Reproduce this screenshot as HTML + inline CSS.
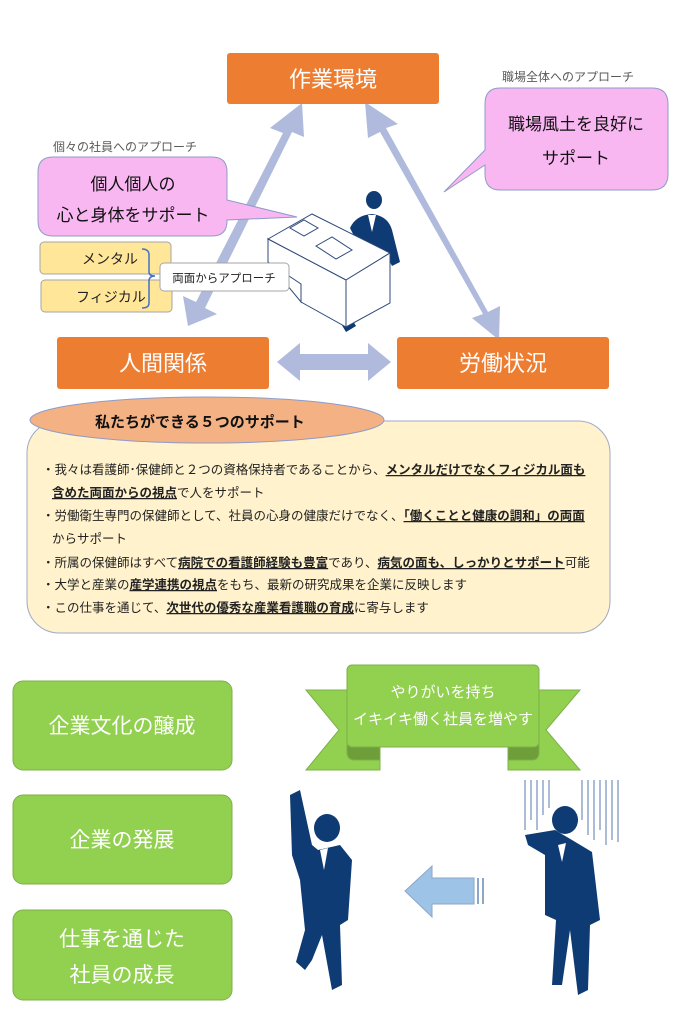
<!DOCTYPE html>
<html><head><meta charset="utf-8"><style>
body{margin:0;background:#fff;}
svg{display:block;font-family:"Liberation Sans","Noto Sans CJK JP",sans-serif;}
</style></head><body>
<svg width="694" height="1024" viewBox="0 0 694 1024" xmlns="http://www.w3.org/2000/svg">
<!-- arrows -->
<g fill="#AFBADC">
<polygon points="188,326 183,296 196,302 283,133 270,128 302,103 304,137 292,132 205,308 217,314"/>
<polygon points="365,102 398,124 386,128 488,312 500,306 499,340 472,318 483,314 380,132 368,138"/>
<polygon points="277,362 300,343 300,354 368,354 368,343 391,362 368,381 368,370 300,370 300,381"/>
</g>
<!-- orange boxes -->
<g fill="#ED7D31">
<rect x="227" y="53" width="212" height="51" rx="3"/>
<rect x="57" y="337" width="212" height="52" rx="3"/>
<rect x="397" y="337" width="212" height="52" rx="3"/>
</g>
<g fill="#fff" font-size="22" text-anchor="middle">
<text x="333" y="87">作業環境</text>
<text x="163" y="371">人間関係</text>
<text x="503" y="371">労働状況</text>
</g>
<!-- captions -->
<g fill="#595959" font-size="12">
<text x="502" y="81">職場全体へのアプローチ</text>
<text x="53" y="151">個々の社員へのアプローチ</text>
</g>
<!-- pink bubbles -->
<path d="M500,88 H652 Q668,88 668,104 V174 Q668,190 652,190 H500 Q485,190 485,174 V165 L444,192 L485,150 V104 Q485,88 500,88Z" fill="#F9B7F2" stroke="#8E9BC9"/>
<g font-size="17" text-anchor="middle" fill="#111"><text x="576" y="130">職場風土を良好に</text><text x="576" y="164">サポート</text></g>
<!-- man behind desk -->
<g fill="#0E3B73">
<ellipse cx="374" cy="200" rx="8" ry="9"/>
<path d="M350,228 Q356,215 372,214 Q388,216 392,230 L400,262 L392,266 L384,250 L370,246 L356,240Z"/>
<path d="M340,322 L350,316 L356,326 L346,332Z"/>
</g>
<g fill="#fff"><path d="M368,215 L376,215 L372,232Z"/></g>
<!-- desk -->
<g stroke="#2F4A7A" fill="#fff" stroke-width="1">
<polygon points="268,239 268,262 301,302 301,282"/>
<polygon points="301,282 346,280 346,327 301,302" fill="none" stroke="none"/>
<polygon points="268,239 312,214 390,253 346,280"/>
<polygon points="268,239 346,280 346,327 301,302 301,284 268,262"/>
<polygon points="346,280 390,253 390,303 346,327"/>
<polygon points="290,228 304,220 318,228 304,236"/>
<polygon points="316,246 332,237 352,250 336,259"/>
</g>
<path d="M53,157 H212 Q227,157 227,172 V200 L297,217 L227,220 V221 Q227,236 212,236 H53 Q38,236 38,221 V172 Q38,157 53,157Z" fill="#F9B7F2" stroke="#8E9BC9"/>
<g font-size="17" text-anchor="middle" fill="#111"><text x="133" y="190">個人個人の</text><text x="133" y="221">心と身体をサポート</text></g>
<!-- yellow -->
<rect x="40" y="242" width="131" height="32" rx="4" fill="#FFE699" stroke="#A5A5A5"/>
<rect x="41" y="280" width="131" height="32" rx="4" fill="#FFE699" stroke="#A5A5A5"/>
<g font-size="14" fill="#222"><text x="82" y="264">メンタル</text><text x="76" y="302">フィジカル</text></g>
<path d="M142,249 Q149,249 149,255 V272 Q149,276 155,276 Q149,276 149,281 V303 Q149,308 142,308" fill="none" stroke="#4472C4" stroke-width="1.5"/>
<rect x="160" y="263" width="129" height="28" rx="4" fill="#fff" stroke="#A5A5A5"/>
<text x="224" y="282" font-size="11.5" text-anchor="middle" fill="#222">両面からアプローチ</text>
<!-- five supports -->
<rect x="27" y="421" width="583" height="212" rx="32" fill="#FFF2CC" stroke="#9DAAC8"/>
<ellipse cx="207" cy="420" rx="177" ry="23" fill="#F4B183" stroke="#8E9BC9"/>
<text x="95" y="427" font-size="15" font-weight="bold" fill="#111">私たちができる５つのサポート</text>
<g font-size="12.5" fill="#222">
<text x="42" y="474">・我々は看護師･保健師と２つの資格保持者であることから、<tspan font-weight="bold" text-decoration="underline">メンタルだけでなくフィジカル面も</tspan></text>
<text x="52" y="497"><tspan font-weight="bold" text-decoration="underline">含めた両面からの視点</tspan>で人をサポート</text>
<text x="42" y="520">・労働衛生専門の保健師として、社員の心身の健康だけでなく、<tspan font-weight="bold" text-decoration="underline">「働くことと健康の調和」の両面</tspan></text>
<text x="52" y="543">からサポート</text>
<text x="42" y="567">・所属の保健師はすべて<tspan font-weight="bold" text-decoration="underline">病院での看護師経験も豊富</tspan>であり、<tspan font-weight="bold" text-decoration="underline">病気の面も、しっかりとサポート</tspan>可能</text>
<text x="42" y="589">・大学と産業の<tspan font-weight="bold" text-decoration="underline">産学連携の視点</tspan>をもち、最新の研究成果を企業に反映します</text>
<text x="42" y="612">・この仕事を通じて、<tspan font-weight="bold" text-decoration="underline">次世代の優秀な産業看護職の育成</tspan>に寄与します</text>
</g>
<!-- green boxes -->
<g fill="#92D050" stroke="#7FAF4A">
<rect x="13" y="681" width="219" height="89" rx="10"/>
<rect x="13" y="795" width="219" height="89" rx="10"/>
<rect x="13" y="910" width="219" height="90" rx="10"/>
</g>
<g fill="#fff" font-size="21" text-anchor="middle">
<text x="122" y="733">企業文化の醸成</text>
<text x="122" y="847">企業の発展</text>
<text x="122" y="946">仕事を通じた</text>
<text x="122" y="982">社員の成長</text>
</g>
<!-- ribbon -->
<g stroke="#7FAF4A">
<polygon points="306,690 380,690 380,770 306,770 339,730" fill="#92D050"/>
<polygon points="580,690 508,690 508,770 580,770 546,730" fill="#92D050"/>
<path d="M347,745 H380 V760 H355 Q347,760 347,752Z" fill="#6E9E3A"/>
<path d="M539,745 H508 V760 H532 Q539,760 539,752Z" fill="#6E9E3A"/>
<rect x="347" y="665" width="192" height="82" rx="5" fill="#92D050"/>
</g>
<g fill="#fff" font-size="15" text-anchor="middle"><text x="443" y="697">やりがいを持ち</text><text x="443" y="724">イキイキ働く社員を増やす</text></g>
<!-- arrow -->
<polygon points="405,891 432,866 432,878 474,878 474,904 432,904 432,917" fill="#9DC3E6" stroke="#8EA6C8"/>
<g stroke="#8EA6C8" stroke-width="2"><line x1="478" y1="878" x2="478" y2="904"/><line x1="483" y1="878" x2="483" y2="904"/></g>
<!-- rain -->
<g stroke="#8EA6C8" stroke-width="1.5">
<line x1="525" y1="780" x2="525" y2="830"/><line x1="531" y1="780" x2="531" y2="820"/><line x1="537" y1="780" x2="537" y2="830"/><line x1="543" y1="780" x2="543" y2="815"/><line x1="549" y1="780" x2="549" y2="808"/><line x1="582" y1="780" x2="582" y2="820"/><line x1="588" y1="780" x2="588" y2="835"/><line x1="594" y1="780" x2="594" y2="840"/><line x1="600" y1="780" x2="600" y2="830"/><line x1="606" y1="780" x2="606" y2="845"/><line x1="612" y1="780" x2="612" y2="840"/><line x1="618" y1="780" x2="618" y2="842"/>
</g>
<!-- people -->
<g fill="#0E3B73">
<ellipse cx="327" cy="828" rx="13" ry="14"/>
<path d="M290,795 L300,790 L312,845 L318,850 L340,845 L352,860 L348,920 L340,925 L342,985 L332,990 L322,935 L312,960 L305,970 L296,962 L305,930 L300,880 L292,855Z"/>
<ellipse cx="565" cy="820" rx="13" ry="14"/>
<path d="M525,835 L555,830 L572,840 L592,852 L600,920 L590,925 L588,990 L578,995 L570,930 L562,985 L552,985 L556,920 L545,915 L545,855 L528,845Z"/>
</g>
<g fill="#fff"><path d="M320,850 L328,848 L324,870Z"/><path d="M558,845 L566,843 L562,862Z"/></g>
</svg>
</body></html>
